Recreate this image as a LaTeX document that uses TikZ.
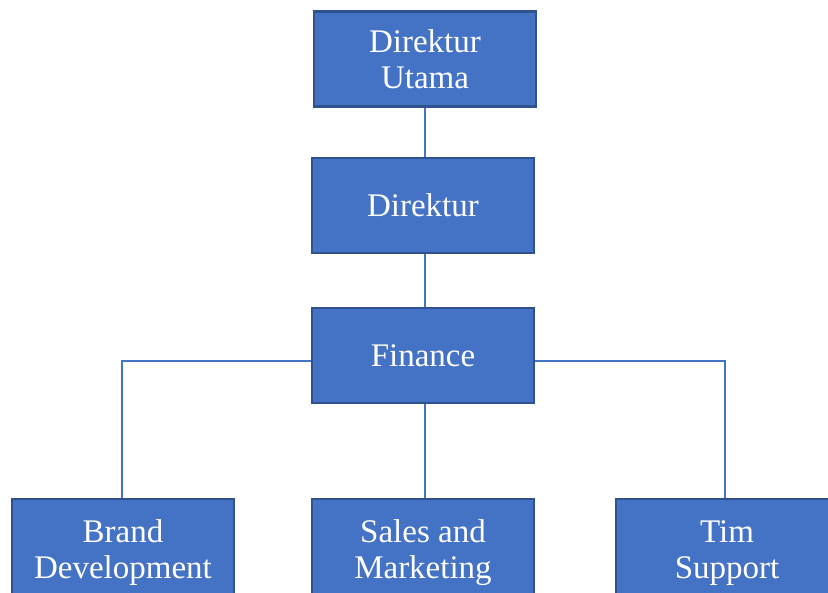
\documentclass[tikz,border=0pt]{standalone}
\usepackage{fontspec}
\setmainfont{Liberation Serif}
\usetikzlibrary{backgrounds}
\definecolor{boxfill}{HTML}{4472C4}
\definecolor{boxline}{HTML}{2F528F}
\begin{document}
\begin{tikzpicture}[x=1pt,y=1pt,
  orgbox/.style={draw=boxline, line width=2.2pt, fill=boxfill, text=white,
    minimum width=222pt, minimum height=95pt, align=center, inner sep=0pt,
    font=\fontsize{33}{36}\selectfont},
  lowbox/.style={orgbox, minimum height=108pt},
  link/.style={draw=boxfill, line width=2pt}]
\useasboundingbox (0,0) rectangle (828,593);
\clip (0,0) rectangle (828,593);
\node[orgbox] (du) at (425,534) {Direktur\\Utama};
\node[orgbox] (d) at (423,387.5) {Direktur};
\node[orgbox] (f) at (423,237.5) {Finance};
\node[lowbox] (bd) at (123,40) {Brand\\Development};
\node[lowbox] (sm) at (423,40) {Sales and\\Marketing};
\node[lowbox] (ts) at (727,40) {Tim\\Support};
\coordinate (lj) at (122,232);
\coordinate (rj) at (725,232);
\begin{scope}[on background layer]
\draw[link] (du.south) -- (du.south |- d.north);
\draw[link] ([xshift=2pt]d.south) -- ([xshift=2pt]f.north);
\draw[link] ([xshift=2pt]f.south) -- ([xshift=2pt]sm.north);
\draw[link] (f.west |- lj) -- (lj) -- (lj |- bd.north);
\draw[link] (f.east |- rj) -- (rj) -- (rj |- ts.north);
\end{scope}
\end{tikzpicture}
\end{document}
